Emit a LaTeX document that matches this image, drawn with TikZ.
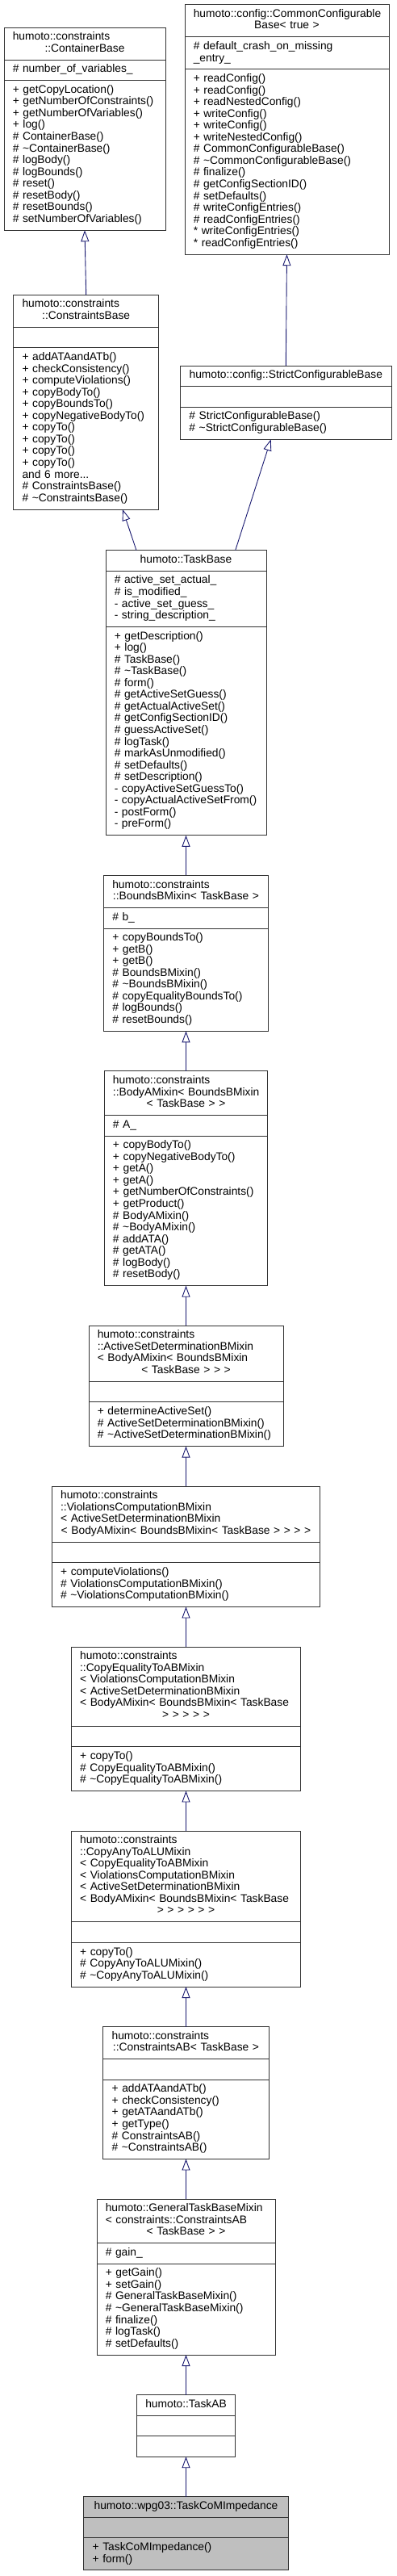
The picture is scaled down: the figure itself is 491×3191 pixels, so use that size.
\documentclass[tikz,border=0pt]{standalone}
\usepackage{fontspec}
\setmainfont{Liberation Sans}
\usetikzlibrary{arrows.meta,positioning}
\definecolor{edgeblue}{HTML}{191970}
\definecolor{curgray}{HTML}{BFBFBF}
\newcommand{\ctrline}[1]{\makebox[\linewidth]{#1}}

\begin{document}
\begin{tikzpicture}[
	x=1pt, y=1pt,
	>={Triangle[open,length=14pt,width=10pt]},
	node distance=49.5pt,
	cls/.style={
		draw=black!80,
		line width=0.9pt,
		fill=white,
		font=\fontsize{13.8}{14.55}\selectfont,
		align=left,
		text width=#1,
		inner xsep=10.8pt,
		inner ysep=5.5pt,
		outer sep=0pt,
		execute at begin node={\strut\rightskip=0pt plus 1fil minus 20pt\relax},
		execute at end node=\strut
	},
	current/.style={fill=curgray},
	inherit/.style={->, draw=edgeblue, line width=0.9pt}
	]
	\useasboundingbox (0,0) rectangle (491,-3191);
	
	% ContainerBase
	\node[cls=178.4pt,anchor=north] (cb) at (105,-34)
	{humoto::constraints\\\ctrline{::ContainerBase}};
	\node[cls=178.4pt,below=0pt of cb] (cb-a) {\# number\_of\_variables\_};
	\node[cls=178.4pt,below=0pt of cb-a] (cb-m)
	{+ getCopyLocation()\\+ getNumberOfConstraints()\\+ getNumberOfVariables()\\+ log()\\\# ContainerBase()\\\# \textasciitilde ContainerBase()\\\# logBody()\\\# logBounds()\\\# reset()\\\# resetBody()\\\# resetBounds()\\\# setNumberOfVariables()};
	
	% CommonConfigurableBase
	\node[cls=231.4pt,anchor=north] (ccb) at (355.5,-5.7)
	{humoto::config::CommonConfigurable\\\ctrline{Base< true >}};
	\node[cls=231.4pt,below=0pt of ccb] (ccb-a) {\# default\_crash\_on\_missing\\\_entry\_};
	\node[cls=231.4pt,below=0pt of ccb-a] (ccb-m)
	{+ readConfig()\\+ readConfig()\\+ readNestedConfig()\\+ writeConfig()\\+ writeConfig()\\+ writeNestedConfig()\\\# CommonConfigurableBase()\\\# \textasciitilde CommonConfigurableBase()\\\# finalize()\\\# getConfigSectionID()\\\# setDefaults()\\\# writeConfigEntries()\\\# readConfigEntries()\\{}* writeConfigEntries()\\{}* readConfigEntries()};
	
	% ConstraintsBase
	\node[cls=158.4pt,below=80pt of cb-m,xshift=1.7pt] (cnb)
	{humoto::constraints\\\ctrline{::ConstraintsBase}};
	\node[cls=158.4pt,below=0pt of cnb] (cnb-a) {};
	\node[cls=158.4pt,below=0pt of cnb-a] (cnb-m)
	{+ addATAandATb()\\+ checkConsistency()\\+ computeViolations()\\+ copyBodyTo()\\+ copyBoundsTo()\\+ copyNegativeBodyTo()\\+ copyTo()\\+ copyTo()\\+ copyTo()\\+ copyTo()\\and 6 more...\\\# ConstraintsBase()\\\# \textasciitilde ConstraintsBase()};
	
	% StrictConfigurableBase
	\node[cls=239.7pt,below=138pt of ccb-m,xshift=-1.2pt] (scb)
	{\ctrline{humoto::config::StrictConfigurableBase}};
	\node[cls=239.7pt,below=0pt of scb] (scb-a) {};
	\node[cls=239.7pt,below=0pt of scb-a] (scb-m)
	{\# StrictConfigurableBase()\\\# \textasciitilde StrictConfigurableBase()};
	
	% TaskBase
	\node[cls=177.4pt,anchor=north] (tb) at (230.5,-681.7)
	{\ctrline{humoto::TaskBase}};
	\node[cls=177.4pt,below=0pt of tb] (tb-a)
	{\# active\_set\_actual\_\\\# is\_modified\_\\- active\_set\_guess\_\\- string\_description\_};
	\node[cls=177.4pt,below=0pt of tb-a] (tb-m)
	{+ getDescription()\\+ log()\\\# TaskBase()\\\# \textasciitilde TaskBase()\\\# form()\\\# getActiveSetGuess()\\\# getActualActiveSet()\\\# getConfigSectionID()\\\# guessActiveSet()\\\# logTask()\\\# markAsUnmodified()\\\# setDefaults()\\\# setDescription()\\- copyActiveSetGuessTo()\\- copyActualActiveSetFrom()\\- postForm()\\- preForm()};
	
	% BoundsBMixin
	\node[cls=182.4pt,below=of tb-m] (bbm)
	{humoto::constraints\\\ctrline{::BoundsBMixin< TaskBase >}};
	\node[cls=182.4pt,below=0pt of bbm] (bbm-a) {\# b\_};
	\node[cls=182.4pt,below=0pt of bbm-a] (bbm-m)
	{+ copyBoundsTo()\\+ getB()\\+ getB()\\\# BoundsBMixin()\\\# \textasciitilde BoundsBMixin()\\\# copyEqualityBoundsTo()\\\# logBounds()\\\# resetBounds()};
	
	% BodyAMixin
	\node[cls=181.1pt,below=of bbm-m] (bam)
	{humoto::constraints\\::BodyAMixin< BoundsBMixin\\\ctrline{< TaskBase > >}};
	\node[cls=181.1pt,below=0pt of bam] (bam-a) {\# A\_};
	\node[cls=181.1pt,below=0pt of bam-a] (bam-m)
	{+ copyBodyTo()\\+ copyNegativeBodyTo()\\+ getA()\\+ getA()\\+ getNumberOfConstraints()\\+ getProduct()\\\# BodyAMixin()\\\# \textasciitilde BodyAMixin()\\\# addATA()\\\# getATA()\\\# logBody()\\\# resetBody()};
	
	% ActiveSetDeterminationBMixin
	\node[cls=219.4pt,below=of bam-m] (asd)
	{humoto::constraints\\::ActiveSetDeterminationBMixin\\< BodyAMixin< BoundsBMixin\\\ctrline{< TaskBase > > >}};
	\node[cls=219.4pt,below=0pt of asd] (asd-a) {};
	\node[cls=219.4pt,below=0pt of asd-a] (asd-m)
	{+ determineActiveSet()\\\# ActiveSetDeterminationBMixin()\\\# \textasciitilde ActiveSetDeterminationBMixin()};
	
	% ViolationsComputationBMixin
	\node[cls=310.8pt,below=of asd-m] (vcm)
	{humoto::constraints\\::ViolationsComputationBMixin\\< ActiveSetDeterminationBMixin\\\ctrline{< BodyAMixin< BoundsBMixin< TaskBase > > > >}};
	\node[cls=310.8pt,below=0pt of vcm] (vcm-a) {};
	\node[cls=310.8pt,below=0pt of vcm-a] (vcm-m)
	{+ computeViolations()\\\# ViolationsComputationBMixin()\\\# \textasciitilde ViolationsComputationBMixin()};
	
	% CopyEqualityToABMixin
	\node[cls=262.8pt,below=of vcm-m] (ceq)
	{humoto::constraints\\::CopyEqualityToABMixin\\< ViolationsComputationBMixin\\< ActiveSetDeterminationBMixin\\< BodyAMixin< BoundsBMixin< TaskBase\\\ctrline{> > > > >}};
	\node[cls=262.8pt,below=0pt of ceq] (ceq-a) {};
	\node[cls=262.8pt,below=0pt of ceq-a] (ceq-m)
	{+ copyTo()\\\# CopyEqualityToABMixin()\\\# \textasciitilde CopyEqualityToABMixin()};
	
	% CopyAnyToALUMixin
	\node[cls=262.8pt,below=of ceq-m] (calu)
	{humoto::constraints\\::CopyAnyToALUMixin\\< CopyEqualityToABMixin\\< ViolationsComputationBMixin\\< ActiveSetDeterminationBMixin\\< BodyAMixin< BoundsBMixin< TaskBase\\\ctrline{> > > > > >}};
	\node[cls=262.8pt,below=0pt of calu] (calu-a) {};
	\node[cls=262.8pt,below=0pt of calu-a] (calu-m)
	{+ copyTo()\\\# CopyAnyToALUMixin()\\\# \textasciitilde CopyAnyToALUMixin()};
	
	% ConstraintsAB
	\node[cls=183.7pt,below=of calu-m] (cab)
	{humoto::constraints\\\ctrline{::ConstraintsAB< TaskBase >}};
	\node[cls=183.7pt,below=0pt of cab] (cab-a) {};
	\node[cls=183.7pt,below=0pt of cab-a] (cab-m)
	{+ addATAandATb()\\+ checkConsistency()\\+ getATAandATb()\\+ getType()\\\# ConstraintsAB()\\\# \textasciitilde ConstraintsAB()};
	
	% GeneralTaskBaseMixin
	\node[cls=199.4pt,below=of cab-m] (gtb)
	{humoto::GeneralTaskBaseMixin\\< constraints::ConstraintsAB\\\ctrline{< TaskBase > >}};
	\node[cls=199.4pt,below=0pt of gtb] (gtb-a) {\# gain\_};
	\node[cls=199.4pt,below=0pt of gtb-a] (gtb-m)
	{+ getGain()\\+ setGain()\\\# GeneralTaskBaseMixin()\\\# \textasciitilde GeneralTaskBaseMixin()\\\# finalize()\\\# logTask()\\\# setDefaults()};
	
	% TaskAB
	\node[cls=101.1pt,below=of gtb-m] (tab) {\ctrline{humoto::TaskAB}};
	\node[cls=101.1pt,below=0pt of tab] (tab-a) {};
	\node[cls=101.1pt,below=0pt of tab-a] (tab-m) {};
	
	% TaskCoMImpedance
	\node[cls=231.7pt,current,below=of tab-m] (tci)
	{\ctrline{humoto::wpg03::TaskCoMImpedance}};
	\node[cls=231.7pt,current,below=0pt of tci] (tci-a) {};
	\node[cls=231.7pt,current,below=0pt of tci-a] (tci-m)
	{+ TaskCoMImpedance()\\+ form()};
	
	% Inheritance
	\draw[inherit] (cnb.north) -- (cb-m.south);
	\draw[inherit] (scb.north) -- (ccb-m.south);
	\draw[inherit] ([xshift=-61.5pt]tb.north) -- ([xshift=45.3pt]cnb-m.south);
	\draw[inherit] ([xshift=61.2pt]tb.north) -- ([xshift=-18.6pt]scb-m.south);
	\draw[inherit] (bbm.north) -- (tb-m.south);
	\draw[inherit] (bam.north) -- (bbm-m.south);
	\draw[inherit] (asd.north) -- (bam-m.south);
	\draw[inherit] (vcm.north) -- (asd-m.south);
	\draw[inherit] (ceq.north) -- (vcm-m.south);
	\draw[inherit] (calu.north) -- (ceq-m.south);
	\draw[inherit] (cab.north) -- (calu-m.south);
	\draw[inherit] (gtb.north) -- (cab-m.south);
	\draw[inherit] (tab.north) -- (gtb-m.south);
	\draw[inherit] (tci.north) -- (tab-m.south);
	
\end{tikzpicture}
\end{document}
